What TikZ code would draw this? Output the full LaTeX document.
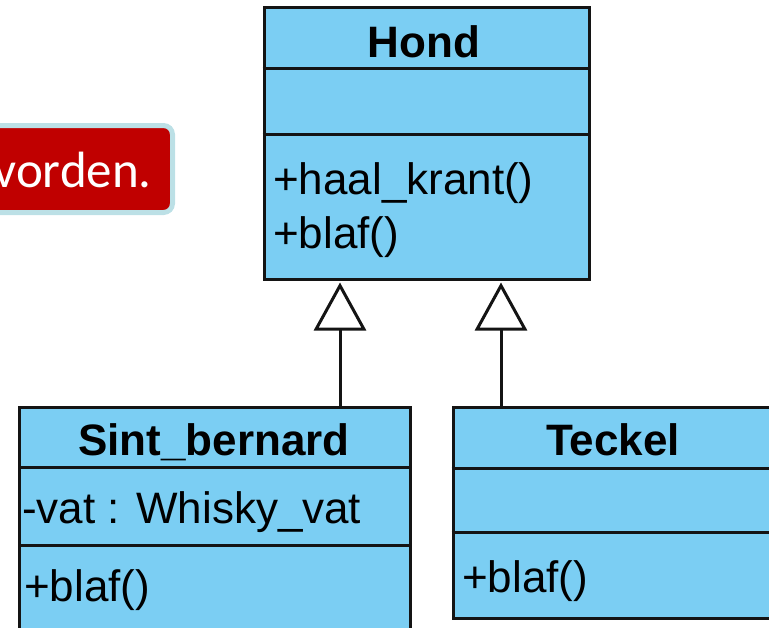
\documentclass[tikz,border=0pt]{standalone}
\usepackage{fontspec}
\setmainfont{Liberation Sans}
\newfontfamily\calib{Carlito}
\usetikzlibrary{arrows.meta}
\definecolor{umlfill}{RGB}{123,206,243}
\definecolor{umlline}{RGB}{20,20,20}
\definecolor{redbox}{RGB}{192,0,0}
\definecolor{redborder}{RGB}{188,224,230}
\tikzset{
  classbox/.style={draw=umlline, fill=umlfill, line width=3pt, inner sep=0pt, rectangle},
  divider/.style={draw=umlline, line width=3pt},
  umltext/.style={inner sep=0pt, font=\fontsize{44}{53}\selectfont, text=black},
  umltitle/.style={umltext, font=\fontsize{44}{53}\selectfont\bfseries},
  inherit/.style={draw=umlline, line width=3pt, shorten >=2pt,
    -{Triangle[open, length=48pt, width=52pt, fill=white]}},
}
\begin{document}
\begin{tikzpicture}[x=1pt, y=-1pt]
\useasboundingbox (0,0) rectangle (769,627);
\clip (0,0) rectangle (769,627);
% red callout
\node[draw=redborder, fill=redbox, line width=5pt, rounded corners=9pt,
      minimum width=192pt, minimum height=87pt, inner sep=0pt] (callout) at (76.5,169) {};
\node[anchor=base east, inner sep=0pt, text=white, font=\calib\fontsize{51}{58}\selectfont]
      (callouttext) at (152,187) {vorden.};
% Hond
\node[classbox, minimum width=325pt, minimum height=272pt] (hond) at (426.5,143) {};
\draw[divider] (hond.west |- 0,68) -- (hond.east |- 0,68);
\draw[divider] (hond.west |- 0,134) -- (hond.east |- 0,134);
\node[umltitle, anchor=base] (hondname) at (424,57) {Hond};
\node[umltext, anchor=base west] (hondop1) at (273,194) {+haal\_krant()};
\node[umltext, anchor=base west] (hondop2) at (273,248) {+blaf()};
% Sint_bernard
\node[classbox, minimum width=390.5pt, minimum height=260pt] (sint) at (214.75,537) {};
\draw[divider] (sint.west |- 0,467) -- (sint.east |- 0,467);
\draw[divider] (sint.west |- 0,545) -- (sint.east |- 0,545);
\node[umltitle, anchor=base] (sintname) at (214,455) {Sint\_bernard};
\node[umltext, anchor=base west] (sintattr) at (22,523) {-vat : Whisky\_vat};
\node[umltext, anchor=base west] (sintop) at (24,601) {+blaf()};
% Teckel
\node[classbox, minimum width=328pt, minimum height=211pt] (teckel) at (617,512.5) {};
\draw[divider] (teckel.west |- 0,468) -- (teckel.east |- 0,468);
\draw[divider] (teckel.west |- 0,532) -- (teckel.east |- 0,532);
\node[umltitle, anchor=base] (teckelname) at (613,455) {Teckel};
\node[umltext, anchor=base west] (teckelop) at (462,592) {+blaf()};
% inheritance
\draw[inherit] (sint.north -| 340,0) -- (hond.south -| 340,0);
\draw[inherit] (teckel.north -| 501,0) -- (hond.south -| 501,0);
\end{tikzpicture}
\end{document}
